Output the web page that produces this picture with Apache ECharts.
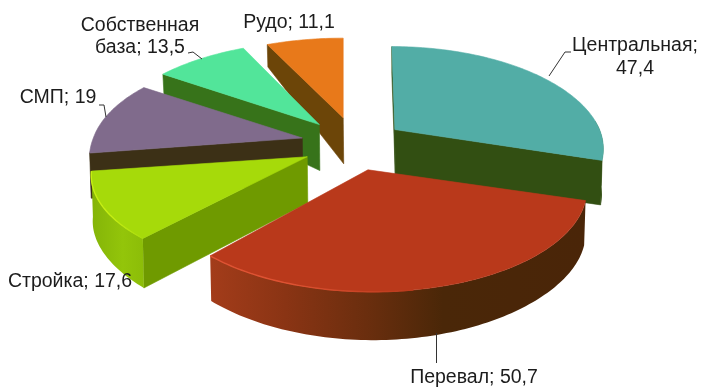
<!DOCTYPE html>
<html>
<head>
<meta charset="utf-8">
<style>html,body{margin:0;padding:0;background:#fff}#c{width:709px;height:390px}</style>
<script src="https://cdn.jsdelivr.net/npm/echarts@6/dist/echarts.min.js"></script>
</head>
<body>
<div id="c"></div>
<script>
const categories = ['Центральная', 'Перевал', 'Стройка', 'СМП', 'Собственная база', 'Рудо'];
const values = [47.4, 50.7, 17.6, 19, 13.5, 11.1];
const valueLabels = ['47,4', '50,7', '17,6', '19', '13,5', '11,1'];

const topColors = ['#52ada6', '#b9391b', '#a6da0a', '#806b8c', '#52e59a', '#e8791a'];
const wallColors = ['#324f12', '#4a2508', '#6f9a00', '#3c3016', '#37731a', '#6c4508'];
const rimStops = [
  [[0, '#324f12'], [1, '#324f12']],
  [[0, '#a33c1a'], [0.2, '#8a3414'], [0.42, '#6a2e0e'], [0.62, '#4a2708'], [1, '#4a2508']],
  [[0, '#84b408'], [0.6, '#93c50a'], [1, '#8cbd08']],
  [[0, '#3c3016'], [1, '#3c3016']],
  [[0, '#37731a'], [1, '#37731a']],
  [[0, '#6c4508'], [1, '#6c4508']]
];
const edgeColors = [null, '#de5232', '#c6ee12', null, null, null];

const total = values.reduce((a, b) => a + b, 0);
const rad = v => v / total * Math.PI * 2;
const starts = [];
values.reduce((acc, v, i) => { starts[i] = acc; return acc + rad(v); }, 0);

// projection of the tilted exploded pie
const VIEW = { cx: 353, cy: 144, ex: 52, ey: 26.8, A: 210, B: 98.8, p: 0.19, D: 46 };
// small per-slice perspective corrections: x scale, x offset, lean of the far rim, y scale, apex nudge
const TWEAK = [
  { sx: 0.975, ox: 0, back: -3, sy: 1, ax: 0, ay: 1.5 },
  { sx: 1, ox: 5, back: 0, sy: 1, ax: 1, ay: 0 },
  { sx: 1.01, ox: 0, back: 0, sy: 0.95, ax: 0, ay: 0 },
  { sx: 0.995, ox: 0, back: -5, sy: 1, ax: 0, ay: 0 },
  { sx: 1, ox: 0, back: 0, sy: 1, ax: 0, ay: 1 },
  { sx: 1, ox: 0, back: 0, sy: 0.96, ax: 1.5, ay: 0 }
];

function apexOf(i) {
  const m = starts[i] + rad(values[i]) / 2;
  return [VIEW.cx + VIEW.ex * Math.sin(m) + TWEAK[i].ax, VIEW.cy - VIEW.ey * Math.cos(m) + TWEAK[i].ay, i];
}
function xAt(apex, t) {
  const Y = -Math.cos(t), w = 1 - VIEW.p * Y, tw = TWEAK[apex[2]];
  return apex[0] + tw.sx * VIEW.A * Math.sin(t) / w + tw.ox + tw.back * Math.max(0, -Y);
}
function topPt(apex, t) {
  const Y = -Math.cos(t), w = 1 - VIEW.p * Y;
  return [xAt(apex, t), apex[1] + TWEAK[apex[2]].sy * VIEW.B * Y / w];
}
function botPt(apex, t) {
  const Y = -Math.cos(t);
  const dy = Y >= 0 ? 92 * Y / (1 - 0.26 * Y) : 195.8 * Y / (1 - 0.917 * Y);
  return [xAt(apex, t) - 1.5 * Math.sin(t), apex[1] + VIEW.D + dy];
}
function arc(fn, apex, a, b) {
  const n = Math.max(2, Math.ceil((b - a) / 0.02)), pts = [];
  for (let k = 0; k <= n; k++) pts.push(fn(apex, a + (b - a) * k / n));
  return pts;
}
function renderSlice(params, api) {
  const i = api.value(0);
  const a = starts[i], b = a + rad(api.value(1));
  const apex = apexOf(i), apexB = [apex[0] + 0.5, apex[1] + VIEW.D];
  const apexP = [apex[0], apex[1]];
  const children = [];
  const poly = (points, fill) => ({
    type: 'polygon', shape: { points }, z2: params.dataIndex * 10 + children.length,
    style: { fill, stroke: typeof fill === 'string' ? fill : null, lineWidth: 0.6 }
  });
  // radial walls that face the viewer
  if (Math.sin(a) < 1e-9) children.push(poly([apexP, topPt(apex, a), botPt(apex, a), apexB], wallColors[i]));
  if (Math.sin(b) > 1e-9) children.push(poly([apexP, topPt(apex, b), botPt(apex, b), apexB], wallColors[i]));
  // outer rim, front part only
  const la = Math.PI * 0.47, lb = Math.PI * 1.46;
  const ra = Math.max(a, la), rb = Math.min(b, lb);
  if (rb > ra) {
    const pts = arc(topPt, apex, ra, rb).concat(arc(botPt, apex, ra, rb).reverse());
    children.push(poly(pts, {
      type: 'linear', x: 0, y: 0, x2: 1, y2: 0,
      colorStops: rimStops[i].map(s => ({ offset: s[0], color: s[1] }))
    }));
  }
  // top face
  children.push(poly([apexP].concat(arc(topPt, apex, a, b)), topColors[i]));
  // light edge along the front of the top face
  if (edgeColors[i]) {
    const ea = Math.max(a, Math.PI * 0.95);
    children.push({
      type: 'polyline', shape: { points: arc(topPt, apex, ea, b) },
      z2: params.dataIndex * 10 + children.length,
      style: {
        fill: null, lineWidth: 1.4,
        stroke: {
          type: 'linear', x: 1, y: 0, x2: 0, y2: 0,
          colorStops: [{ offset: 0, color: topColors[i] }, { offset: 0.6, color: edgeColors[i] }, { offset: 1, color: edgeColors[i] }]
        }
      }
    });
  }
  return { type: 'group', children };
}

// painter's order: the slices furthest from the viewer first
const drawOrder = values.map((v, i) => i).sort((p, q) =>
  Math.cos(starts[q] + rad(values[q]) / 2) - Math.cos(starts[p] + rad(values[p]) / 2));

const labelFont = '19.5px "Liberation Sans", Arial, sans-serif';
const labelColor = '#1c1c1c';
const txt = (text, x, y, align) => ({
  type: 'text', x, y, silent: true, z: 10,
  style: { text, fill: labelColor, font: labelFont, align: align || 'center', verticalAlign: 'middle' }
});
const leader = pts => ({
  type: 'polyline', silent: true, z: 10, shape: { points: pts },
  style: { stroke: '#333', lineWidth: 1, fill: null }
});
const baseWords = categories[4].split(' ');

const chart = echarts.init(document.getElementById('c'), null, { renderer: 'canvas' });
chart.setOption({
  animation: false,
  backgroundColor: '#fff',
  series: [{
    type: 'custom',
    coordinateSystem: 'none',
    renderItem: renderSlice,
    silent: true,
    data: drawOrder.map(i => [i, values[i]])
  }],
  graphic: [
    txt(categories[0] + ';', 635, 46),
    txt(valueLabels[0], 635, 69),
    txt(categories[1] + '; ' + valueLabels[1], 474, 378),
    txt(categories[2] + '; ' + valueLabels[2], 70, 282),
    txt(categories[3] + '; ' + valueLabels[3], 58, 98),
    txt(baseWords[0], 140, 26),
    txt(baseWords[1] + '; ' + valueLabels[4], 140, 48),
    txt(categories[5] + '; ' + valueLabels[5], 289, 23),
    leader([[549, 76], [565, 52], [571, 52]]),
    leader([[436.5, 333], [436.5, 363]]),
    leader([[99, 105], [104, 105], [106, 117]]),
    leader([[188, 53], [193, 52], [202, 59]])
  ]
});
</script>
</body>
</html>
